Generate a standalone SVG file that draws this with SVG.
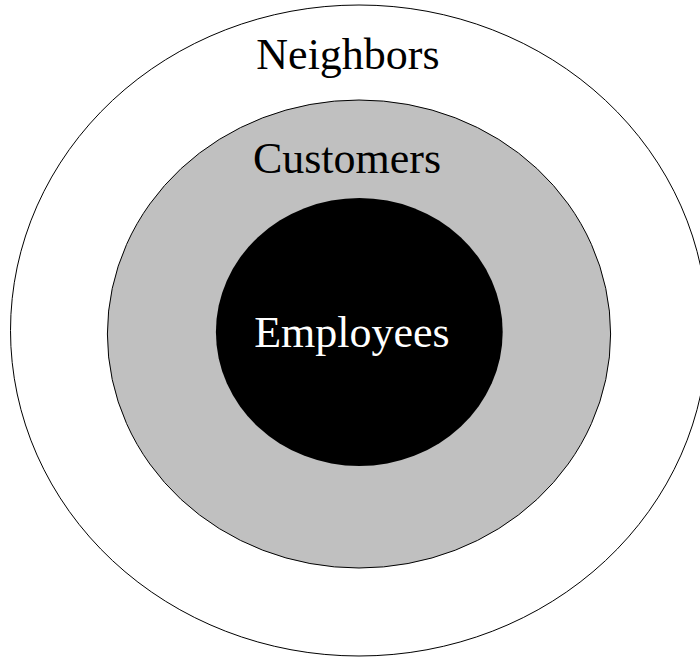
<svg xmlns="http://www.w3.org/2000/svg" width="700" height="657" viewBox="0 0 700 657">
<style>
.lbl{font-family:"Liberation Serif","Times New Roman",serif;font-size:44px;text-anchor:middle}
</style>
<rect width="700" height="657" fill="#fff"/>
<g id="neighbors">
<ellipse cx="359" cy="330.5" rx="348.5" ry="325.5" fill="#fff" stroke="#000" stroke-width="1"/>
<text class="lbl" x="348" y="69" fill="#000">Neighbors</text>
</g>
<g id="customers">
<ellipse cx="359" cy="334" rx="251.6" ry="234" fill="#c0c0c0" stroke="#000" stroke-width="1"/>
<text class="lbl" x="347" y="173" fill="#000">Customers</text>
</g>
<g id="employees">
<ellipse cx="359.3" cy="332" rx="143.4" ry="134" fill="#000"/>
<text class="lbl" x="352" y="347" fill="#fff">Employees</text>
</g>
<g id="connectors"/>
</svg>
